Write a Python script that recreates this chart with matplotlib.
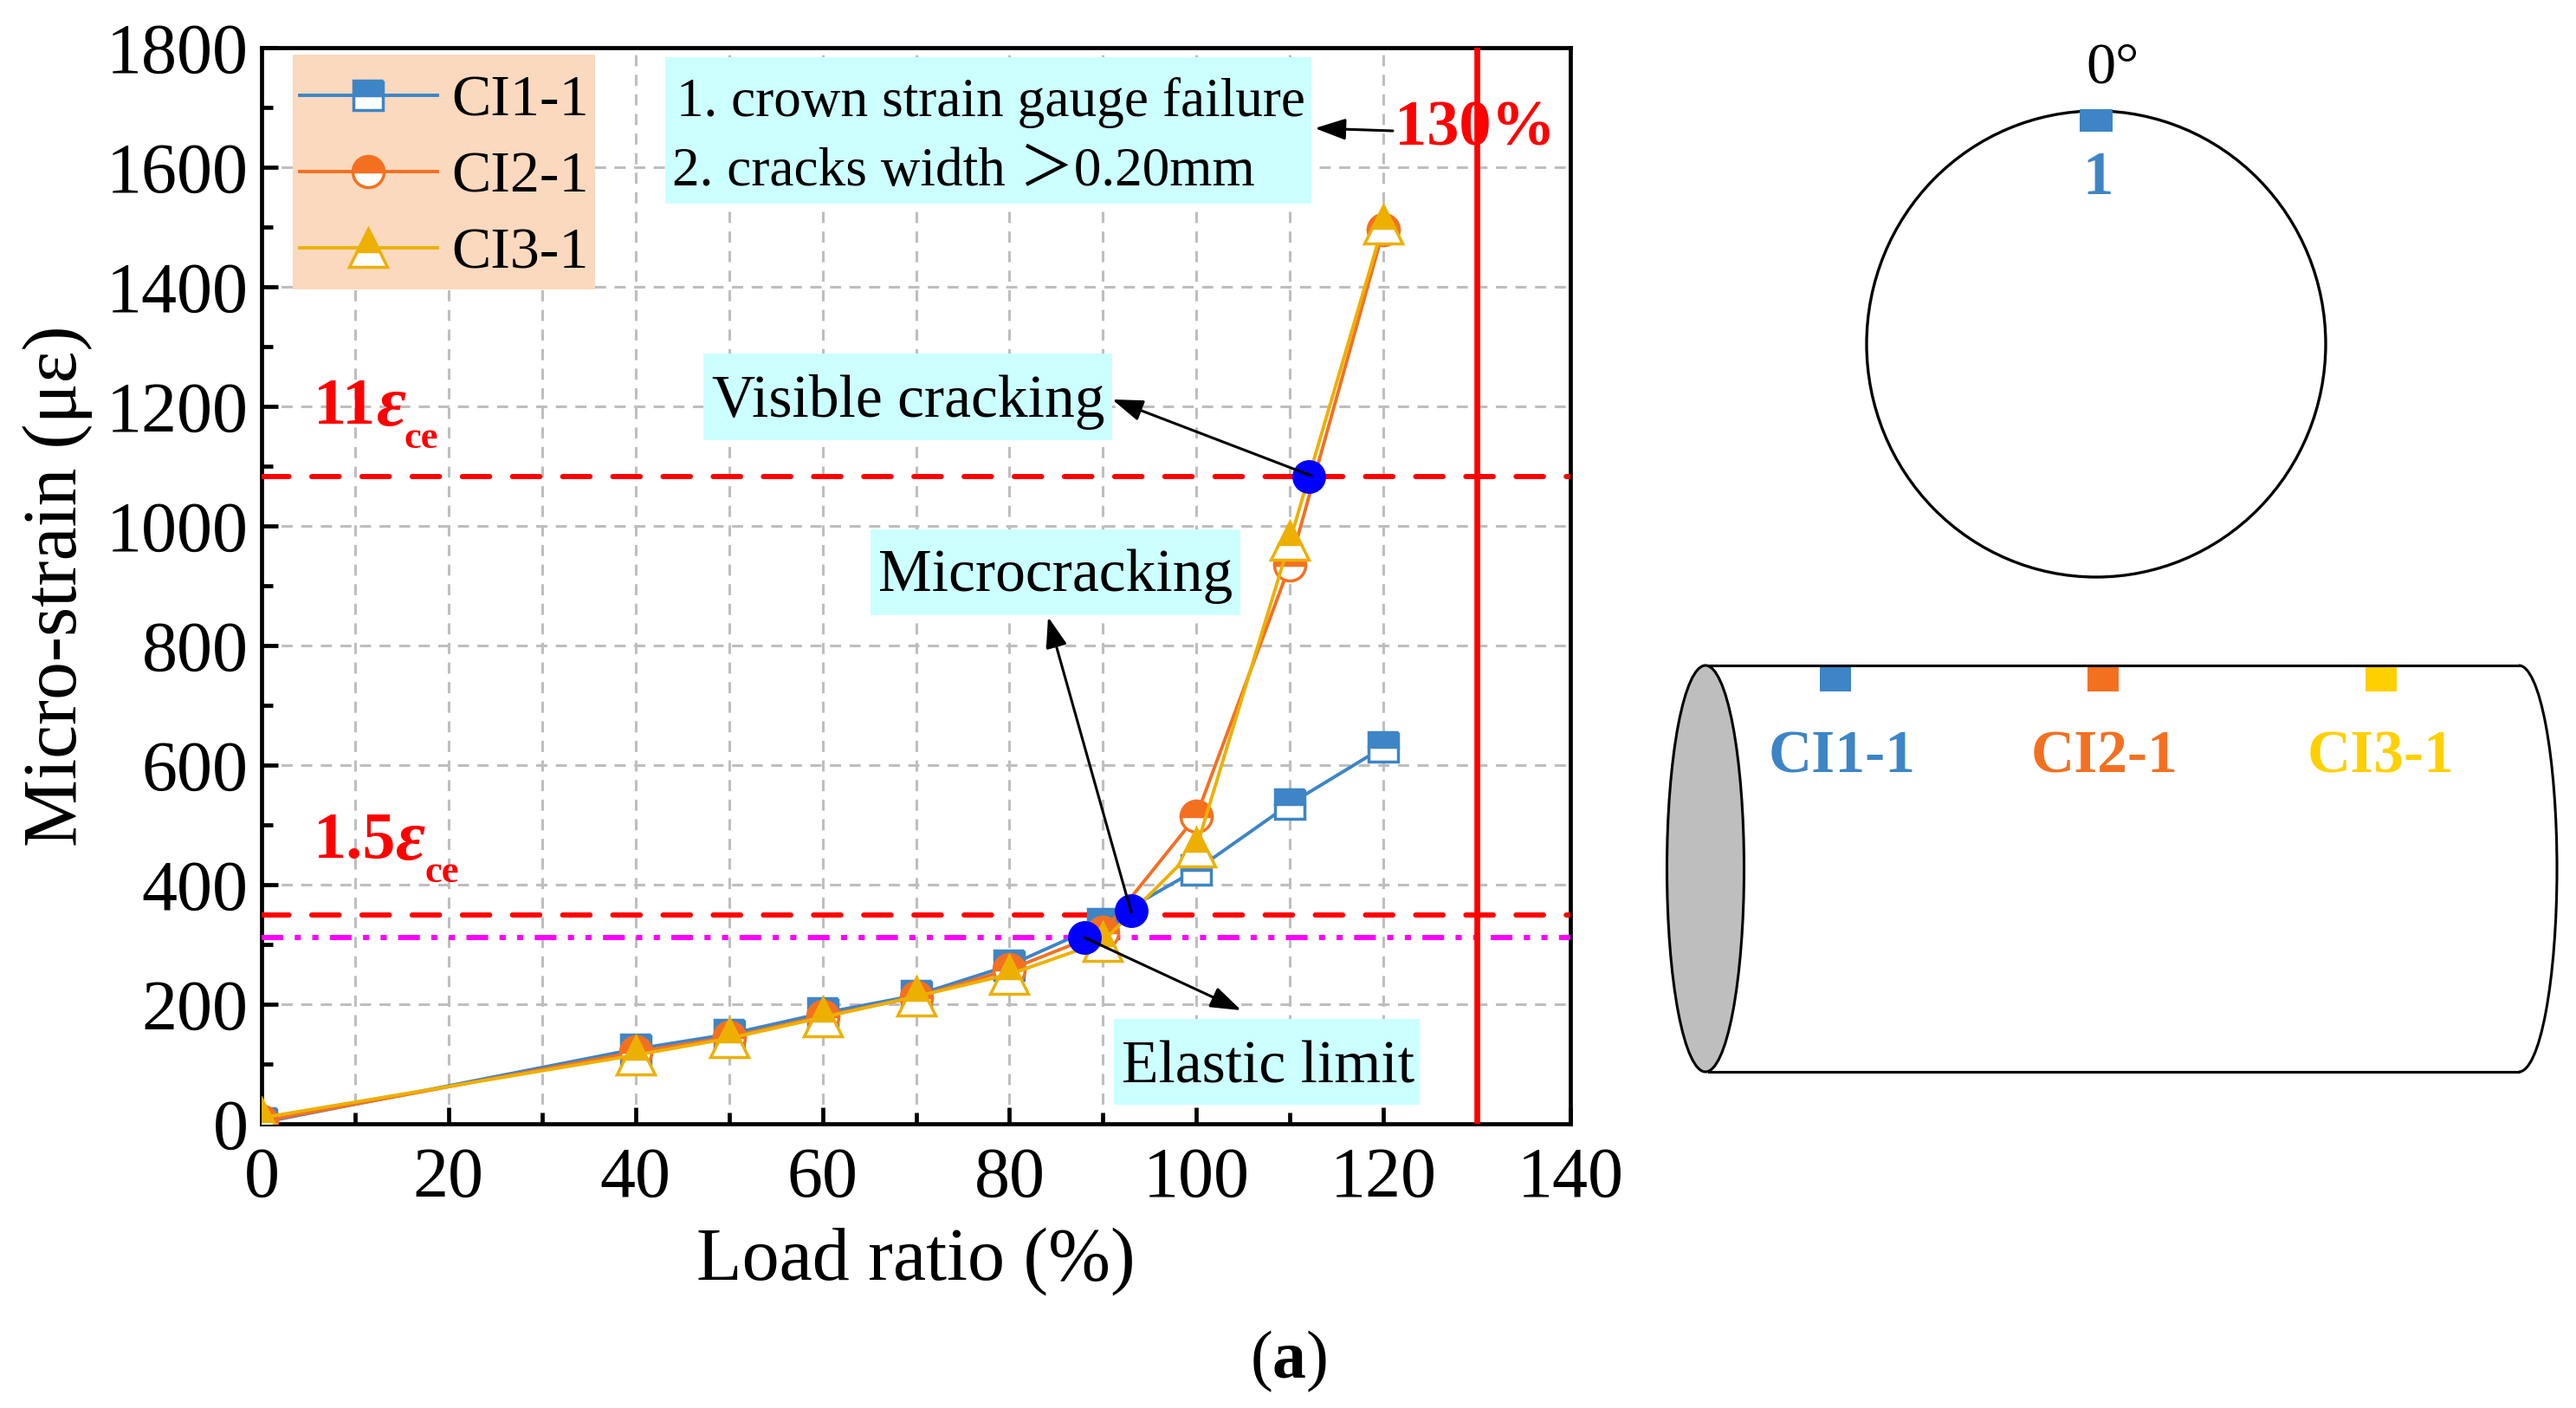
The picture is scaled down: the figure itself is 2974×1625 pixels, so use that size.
import matplotlib
matplotlib.use("Agg")
import matplotlib.pyplot as plt
from matplotlib.patches import Rectangle, Ellipse, Arc

plt.rcParams['font.family'] = ['Liberation Serif', 'Noto Sans CJK SC']
plt.rcParams['mathtext.fontset'] = 'custom'
plt.rcParams['mathtext.rm'] = 'Liberation Serif'
plt.rcParams['mathtext.bf'] = 'Liberation Serif:bold'

W, H = 2974, 1625

# data
load = [0, 40, 50, 60, 70, 80, 90, 100, 110, 120]
ci1 = [2, 125, 150, 185, 215, 265, 335, 425, 535, 630]
ci2 = [4, 120, 145, 180, 212, 258, 320, 515, 935, 1495]
ci3 = [10, 115, 143, 178, 213, 250, 305, 462, 975, 1505]
stage_x = [88, 93, 112]
stage_y = [312, 357, 1082]
strain_lines = [350, 1082]
elastic_line = 312
limit_load = 130

BLUE = '#3D85C6'
ORANGE = '#F47021'
YELLOW = '#EDB000'
CYAN = '#CCFFFF'

fig = plt.figure(figsize=(W / 100, H / 100), dpi=100)
AX_L, AX_R, AX_T, AX_B = 302, 1813, 55, 1297
ax = fig.add_axes([AX_L / W, 1 - AX_B / H, (AX_R - AX_L) / W, (AX_B - AX_T) / H])

series = [(ci1, BLUE, 's', 24, 'CI1-1'), (ci2, ORANGE, 'o', 26, 'CI2-1'), (ci3, YELLOW, '^', 31, 'CI3-1')]
for vals, col, mk, ms, name in series:
    ax.plot(load, vals, color=col, lw=2.8, marker=mk, ms=ms, mew=2.5, mec=col, mfc=col,
            fillstyle='top', markerfacecoloralt='white', label=name, zorder=4)

for y in strain_lines:
    ax.axhline(y, color='#FF0000', lw=4.3, ls=(0, (5.3, 4.4)), dash_capstyle='round', zorder=3)
ax.axhline(elastic_line, color='#FF00FF', lw=4.3, ls=(0, (4.2, 2.2, 1.2, 2.2, 1.2, 2.2)), zorder=3)
ax.axvline(limit_load, color='#FF0000', lw=4.8, zorder=3)
ax.plot(stage_x, stage_y, ls='none', marker='o', ms=27, color='#0000FF', zorder=6)

ax.set_xlim(0, 140)
ax.set_ylim(0, 1800)
ax.set_xticks(range(0, 141, 20))
ax.set_xticks(range(10, 140, 20), minor=True)
ax.set_yticks(range(0, 1801, 200))
ax.set_yticks(range(100, 1800, 200), minor=True)
ax.grid(True, which='major', color='#BEBEBE', lw=2.2, ls=(0, (4.2, 3.2)))
ax.grid(True, which='minor', axis='x', color='#BEBEBE', lw=2.2, ls=(0, (4.2, 3.2)))
ax.set_axisbelow(True)
ax.tick_params(which='major', direction='in', length=14, width=3.4, labelsize=59)
ax.tick_params(axis='x', which='major', pad=19)
ax.tick_params(axis='y', which='major', pad=11)
ax.tick_params(which='minor', direction='in', length=9.5, width=3.4)
for s in ax.spines.values():
    s.set_linewidth(3.4)
ax.set_xlabel('Load ratio (%)', fontsize=62, labelpad=12)
ax.set_ylabel('Micro-strain (με)', fontsize=63, labelpad=11)

# legend background drawn by hand so the frame sits where it does in the original
ax_w, ax_h = AX_R - AX_L, AX_B - AX_T
ax.add_patch(Rectangle(((338 - AX_L) / ax_w, (AX_B - 334) / ax_h), 349 / ax_w, 271 / ax_h,
                       transform=ax.transAxes, fc='#FAD9BE', ec='none', zorder=5))
leg = ax.legend(loc='upper left', bbox_to_anchor=((346 - AX_L) / ax_w, (AX_B - 86) / ax_h), fontsize=49,
                frameon=False, borderaxespad=0, borderpad=0, handlelength=2.33, handletextpad=0.25,
                labelspacing=0.39, numpoints=1)
leg.set_zorder(6)

# overlay in picture pixels for the notes and the pipe sketch
ov = fig.add_axes([0, 0, 1, 1], facecolor='none')
ov.set_xlim(0, W)
ov.set_ylim(H, 0)
ov.axis('off')

note_boxes = [(768, 66, 746, 169), (812, 408, 472, 100), (1005, 611, 427, 99), (1286, 1176, 353, 99)]
for x, y, w, h in note_boxes:
    ov.add_patch(Rectangle((x, y), w, h, fc=CYAN, ec='none', zorder=2))

ov.text(781, 118, '1. crown strain gauge failure', fontsize=45.5, va='center', zorder=3)
ov.text(776, 199, '2. cracks width ＞0.20mm', fontsize=45.5, va='center', zorder=3)
ov.text(1049, 464, 'Visible cracking', ha='center', fontsize=50, va='center', zorder=3)
ov.text(1219, 665, 'Microcracking', ha='center', fontsize=50, va='center', zorder=3)
ov.text(1464, 1233, 'Elastic limit', ha='center', fontsize=50, va='center', zorder=3)

arrows = [((1608, 151), (1518, 148)), ((1514, 549), (1284, 461)), ((1306, 1053), (1210, 712)), ((1252, 1082), (1433, 1166))]
for start, end in arrows:
    ov.annotate('', xy=end, xytext=start, zorder=7,
                arrowprops=dict(arrowstyle='-|>,head_length=0.72,head_width=0.25', color='black', lw=2.2,
                                shrinkA=0, shrinkB=0, mutation_scale=30))

ov.text(1703, 149, '130%', color='#FF0000', fontsize=53.5, fontweight='bold', ha='center', va='center')

# strain labels, built from three pieces for the large epsilon and small subscript
for x0, base, num, eps_x, sub_x in [(362, 489, '11', 434, 466), (362, 990, '1.5', 456, 490)]:
    ov.text(x0, base, num, color='#FF0000', fontsize=55, fontweight='bold', va='baseline')
    ov.text(eps_x, base + 2, 'ε', color='#FF0000', fontsize=60, fontweight='bold', style='italic', va='baseline')
    ov.text(sub_x, base + 28, 'ce', color='#FF0000', fontsize=32, fontweight='bold', va='baseline')

ov.text(1488, 1571, r'($\mathbf{a}$)', fontsize=56, ha='center', va='center')

# cross section
ov.add_patch(Ellipse((2420, 397), 530, 538, fc='none', ec='black', lw=2.4))
ov.add_patch(Rectangle((2401, 126), 38, 26, fc=BLUE, ec='none'))
ov.text(2408, 96, '0°', fontsize=49, va='baseline')
ov.text(2422, 224, '1', color=BLUE, fontsize=51, fontweight='bold', ha='center', va='baseline')

# pipe
ov.plot([1973, 2908], [768, 768], color='black', lw=2.2)
ov.plot([1973, 2908], [1237, 1237], color='black', lw=2.2)
ov.add_patch(Ellipse((1969, 1002.5), 89, 469, fc='#BEBEBE', ec='black', lw=2.2))
ov.add_patch(Arc((2908, 1002.5), 88, 469, theta1=270, theta2=450, color='black', lw=2.2))
gauge_x = [2119, 2428, 2749]
gauge_colors = [BLUE, ORANGE, '#FFD000']
gauge_names = ['CI1-1', 'CI2-1', 'CI3-1']
label_x = [2127, 2430, 2749]
for gx, lx, col, name in zip(gauge_x, label_x, gauge_colors, gauge_names):
    ov.add_patch(Rectangle((gx - 18, 769), 36, 29, fc=col, ec='none'))
    ov.text(lx, 875, name, color=col, fontsize=50, fontweight='bold', ha='center', va='center')

fig.savefig('out.png', dpi=100)
